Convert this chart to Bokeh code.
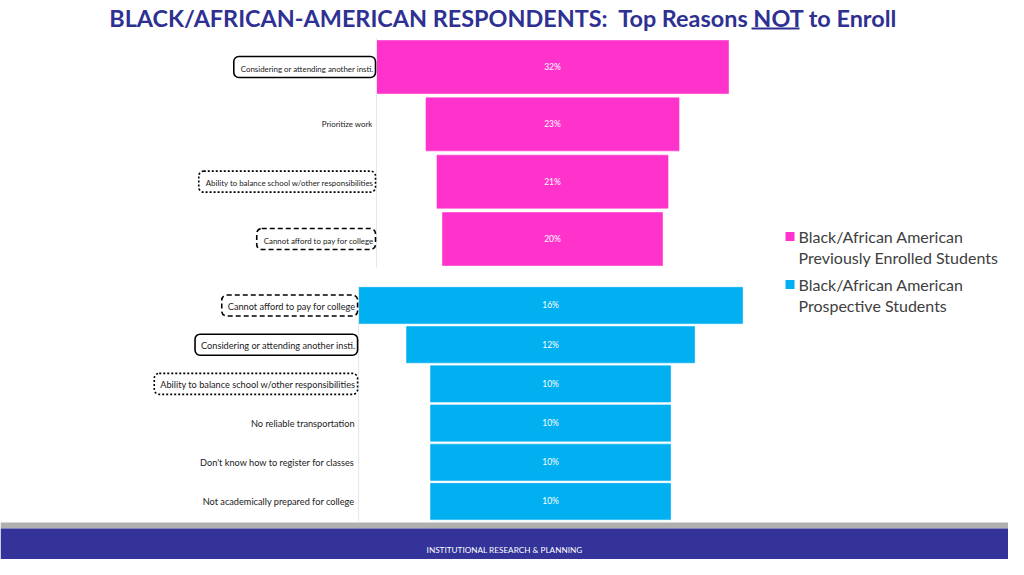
from bokeh.plotting import figure
from bokeh.models import Range1d, Label, BoxAnnotation
from bokeh.core.properties import value
from bokeh.embed import file_html
from bokeh.resources import INLINE

# data
title_text = "BLACK/AFRICAN-AMERICAN RESPONDENTS:\u00a0 Top Reasons NOT to Enroll"
footer_text = "INSTITUTIONAL RESEARCH & PLANNING"

prev_name = ["Black/African American", "Previously Enrolled Students"]
prev_reasons = [
    "Considering or attending another insti.",
    "Prioritize work",
    "Ability to balance school w/other responsibilities",
    "Cannot afford to pay for college",
]
prev_values = [32, 23, 21, 20]

prosp_name = ["Black/African American", "Prospective Students"]
prosp_reasons = [
    "Cannot afford to pay for college",
    "Considering or attending another insti.",
    "Ability to balance school w/other responsibilities",
    "No reliable transportation",
    "Don't know how to register for classes",
    "Not academically prepared for college",
]
prosp_values = [16, 12, 10, 10, 10, 10]

# outline style used for the reasons that appear in both groups
outline = {
    "Considering or attending another insti.": "solid",
    "Ability to balance school w/other responsibilities": "2 2",
    "Cannot afford to pay for college": "5 3",
}

PINK = "#FF33CC"
BLUE = "#00B0F0"
NAVY = "#2E3192"
FONT = "Lato"

p = figure(width=1008, height=559, output_backend="svg", toolbar_location=None,
           x_range=Range1d(-50.18, 41.45), y_range=Range1d(-8.59, 1.16),
           x_axis_location=None, y_axis_location=None, min_border=0)
p.grid.visible = False
p.outline_line_color = None

# bottom funnel gets its own scales
p.extra_x_ranges = {"pb": Range1d(-22.92, 19.08)}
p.extra_y_ranges = {"pb": Range1d(-6.48, 7.78)}


def funnel(reasons, values, color, font_size, pad, xr="default", yr="default"):
    ys = [-i for i in range(len(values))]
    half = [v / 2 for v in values]
    p.hbar(y=ys, left=[-h for h in half], right=half, height=0.925,
           fill_color=color, line_color=color, line_alpha=0.6,
           x_range_name=xr, y_range_name=yr)
    p.text(x=[0] * len(values), y=ys, text=[f"{v}%" for v in values],
           text_color="white", text_font=value(FONT), text_font_size="8.5px",
           text_align="center", text_baseline="middle",
           x_range_name=xr, y_range_name=yr)
    edge = -max(values) / 2
    p.segment(x0=[edge], y0=[0.5], x1=[edge], y1=[-len(values) + 0.5],
              line_color="#e6e6e6", line_width=1, x_range_name=xr, y_range_name=yr)
    for y, r in zip(ys, reasons):
        dash = outline.get(r)
        kw = {}
        if dash is not None:
            kw = dict(border_line_color="black", border_line_width=1.6,
                      border_line_dash=dash, border_radius=5, padding=pad,
                      background_fill_color="white")
        p.text(x=[edge], y=[y], text=[r], x_offset=-1 if dash else -4,
               text_color="#1a1a1a", text_font=value(FONT), text_font_size=font_size,
               text_align="right", text_baseline="middle",
               x_range_name=xr, y_range_name=yr, **kw)


funnel(prev_reasons, prev_values, PINK, "7.9px", (7, 2, 7, 4))
funnel(prosp_reasons, prosp_values, BLUE, "9.2px", (6, 2, 6, 4), "pb", "pb")

# legend, two lines per entry with the swatch next to the first line
for name, color, top in [(prev_name, PINK, 323), (prosp_name, BLUE, 275)]:
    p.add_layout(BoxAnnotation(left=785, right=794, bottom=top - 4.5, top=top + 4.5,
                               left_units="screen", right_units="screen",
                               bottom_units="screen", top_units="screen",
                               fill_color=color, fill_alpha=1, line_color=None))
    for k, line in enumerate(name):
        p.add_layout(Label(x=798, y=top - 21 * k, x_units="screen", y_units="screen",
                           text=line, text_color="#404040", text_font=FONT,
                           text_font_size="16px", text_baseline="middle"))

# slide footer
p.add_layout(BoxAnnotation(bottom=31, bottom_units="screen", top=37, top_units="screen",
                           fill_color="#B0B0B0", fill_alpha=1, line_color=None))
p.add_layout(BoxAnnotation(top=31, top_units="screen", fill_color="#333399",
                           fill_alpha=1, line_color=None))
p.add_layout(Label(x=504, y=10, x_units="screen", y_units="screen", text=footer_text,
                   text_color="white", text_font=FONT, text_font_size="8.2px",
                   text_align="center", text_baseline="middle"))

# title and the underline under NOT
p.add_layout(Label(x=503, y=542, x_units="screen", y_units="screen", text=title_text,
                   text_color=NAVY, text_font=FONT, text_font_style="bold",
                   text_font_size="23.4px", text_align="center", text_baseline="middle"))
p.add_layout(BoxAnnotation(left=751, right=799, bottom=530, top=532,
                           left_units="screen", right_units="screen",
                           bottom_units="screen", top_units="screen",
                           fill_color=NAVY, fill_alpha=1, line_color=None))

open("out.html", "w").write(file_html(p, INLINE))
